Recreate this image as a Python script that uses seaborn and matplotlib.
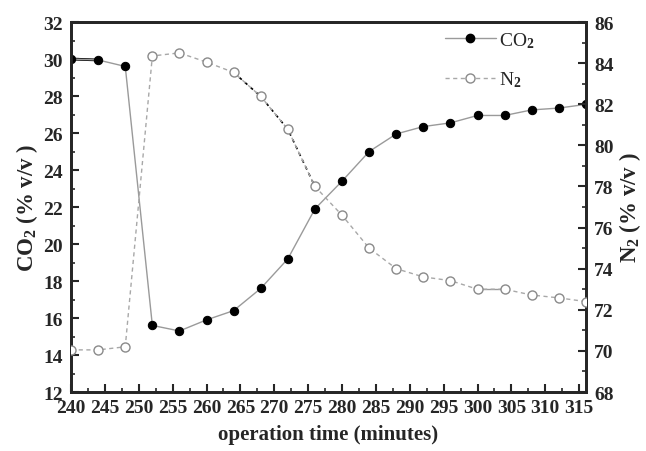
import numpy as np
import pandas as pd
import matplotlib
matplotlib.use("Agg")
import matplotlib.pyplot as plt
from matplotlib.ticker import MultipleLocator
from matplotlib.lines import Line2D
import seaborn as sns

# operation time (minutes)
time = [240, 244, 248, 252, 256, 260, 264, 268, 272, 276,
        280, 284, 288, 292, 296, 300, 304, 308, 312, 316]
# CO2 (% v/v)
co2 = [30.0, 29.95, 29.6, 15.6, 15.3, 15.9, 16.4, 17.6, 19.2, 21.9,
       23.4, 25.0, 25.95, 26.35, 26.55, 26.95, 26.95, 27.25, 27.35, 27.55]
# N2 (% v/v)
n2 = [70.05, 70.05, 70.2, 84.35, 84.5, 84.05, 83.55, 82.38, 80.78, 78.0,
      76.6, 75.0, 74.0, 73.6, 73.42, 73.0, 73.0, 72.72, 72.58, 72.4]

df = pd.DataFrame({"time": time, "co2": co2, "n2": n2})

sns.set_style("ticks")
plt.rcParams["font.family"] = ["Liberation Serif", "DejaVu Serif"]
plt.rcParams["font.weight"] = "bold"
plt.rcParams["mathtext.fontset"] = "custom"
plt.rcParams["mathtext.rm"] = "Liberation Serif:bold"
plt.rcParams["mathtext.it"] = "Liberation Serif:bold"
plt.rcParams["mathtext.bf"] = "Liberation Serif:bold"
plt.rcParams["mathtext.default"] = "rm"

fig = plt.figure(figsize=(6.46, 4.52), dpi=100)
ax = fig.add_axes([0.110, 0.1305, 0.797, 0.8185])
ax2 = ax.twinx()

# CO2 series
sns.lineplot(data=df, x="time", y="co2", ax=ax, color="#9a9a9a", lw=1.0,
             marker="o", markersize=6, markerfacecolor="black",
             markeredgecolor="black", zorder=3)
# dark stub at the start
sns.lineplot(data=df.iloc[0:2], x="time", y="co2", ax=ax, color="black",
             lw=2.0, zorder=2)

# N2 series
sns.lineplot(data=df, x="time", y="n2", ax=ax2, color="#a8a8a8", lw=1.0,
             linestyle=(0, (3, 2.5)), marker="o", markersize=6.5,
             markerfacecolor="white", markeredgecolor="#8a8a8a",
             markeredgewidth=1.0, zorder=3)
sns.lineplot(data=df.iloc[6:10], x="time", y="n2", ax=ax2, color="black",
             lw=1.2, linestyle=(0, (2, 2.5)), zorder=2)
sns.lineplot(data=df.iloc[15:17], x="time", y="n2", ax=ax2, color="#9a9a9a",
             lw=1.0, zorder=2)

ax.set_xlim(240, 316)
ax.set_ylim(12, 32)
ax2.set_ylim(68, 86)

ax.xaxis.set_major_locator(MultipleLocator(5))
ax.xaxis.set_minor_locator(MultipleLocator(2.5))
ax.yaxis.set_major_locator(MultipleLocator(2))
ax.yaxis.set_minor_locator(MultipleLocator(1))
ax2.yaxis.set_major_locator(MultipleLocator(2))
ax2.yaxis.set_minor_locator(MultipleLocator(1))

for a in (ax, ax2):
    a.tick_params(which="major", direction="in", length=6, width=1.5,
                  labelsize=14)
    a.tick_params(which="minor", direction="in", length=3, width=1.2)
    for s in a.spines.values():
        s.set_linewidth(2.0)
        s.set_visible(True)
ax.tick_params(axis="x", which="both", top=False, pad=5)
ax.tick_params(axis="y", which="both", right=False, pad=6)
ax2.tick_params(axis="y", which="both", left=False, right=True, pad=6)

for lab in ax.get_xticklabels() + ax.get_yticklabels() + ax2.get_yticklabels():
    lab.set_fontweight("bold")

ax.set_xlabel("operation time (minutes)", fontsize=15, fontweight="bold",
              labelpad=6)
ax.set_ylabel("CO$_2$ (% v/v )", fontsize=16.5, fontweight="bold", labelpad=2)
ax2.set_ylabel("N$_2$ (% v/v )", fontsize=16.5, fontweight="bold",
               rotation=90, labelpad=2)

handles = [
    Line2D([], [], color="#9a9a9a", lw=1.0, marker="o", markersize=6,
           markerfacecolor="black", markeredgecolor="black"),
    Line2D([], [], color="#a8a8a8", lw=1.0, linestyle=(0, (3, 2.5)),
           marker="o", markersize=6.5, markerfacecolor="white",
           markeredgecolor="#8a8a8a"),
]
leg = ax2.legend(handles, ["CO$_2$", "N$_2$"], loc="upper right",
                 bbox_to_anchor=(0.935, 1.025), frameon=False, fontsize=14,
                 handlelength=2.6, handletextpad=0.2, labelspacing=1.0)
for t in leg.get_texts():
    t.set_fontweight("normal")

fig.savefig("out.png", dpi=100)
